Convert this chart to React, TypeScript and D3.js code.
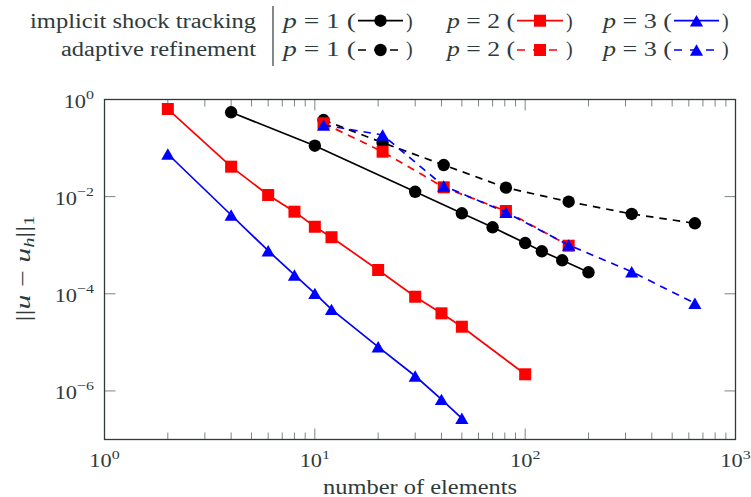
import React from "react";
import * as d3 from "d3";

// ---- data ----
const istX1 = [4, 10, 30, 50, 70, 100, 120, 150, 200];
const istY1 = [0.545, 0.112, 0.0126, 0.00454, 0.00234, 0.00111, 7.5e-4, 4.9e-4, 2.77e-4];
const istX2 = [2, 4, 6, 8, 10, 12, 20, 30, 40, 50, 100];
const istY2 = [0.637, 0.0414, 0.0108, 0.0049, 0.0024, 0.00146, 3.09e-4, 8.7e-5, 3.96e-5, 2.1e-5, 2.2e-6];
const istX3 = [2, 4, 6, 8, 10, 12, 20, 30, 40, 50];
const istY3 = [0.0755, 0.00419, 7.7e-4, 2.44e-4, 1.02e-4, 4.78e-5, 8.1e-6, 2.03e-6, 6.7e-7, 2.73e-7];
const adaX = [11, 21, 41, 81, 161, 321, 641];
const adaY1 = [0.378, 0.129, 0.0448, 0.0153, 0.00787, 0.0044, 0.00283];
const adaY2 = [0.324, 0.0842, 0.01556, 0.00506, 9.77e-4];
const adaY3 = [0.298, 0.186, 0.0166, 0.00476, 1.01e-3, 2.85e-4, 6.37e-5];

const xMajor = [1, 10, 100, 1000];
const xMajorExp = ["0", "1", "2", "3"];
const yMajor = [1, 1e-2, 1e-4, 1e-6];
const yMajorExp = ["0", "\u22122", "\u22124", "\u22126"];
const legendP = ["1", "2", "3"];

const seriesColors = ["#000000", "#ff0000", "#0000ff"];
const markers = ["circle", "square", "triangle"];

const W = 751, H = 497;
const L = 104.5, R = 735.5, T = 99.5, B = 439.5;
const TEXT = "#2f3b3b";
const FONT = "'Liberation Serif', serif";
const SX = 1.18;

function Marker({ type, x, y, color }: { type: string; x: number; y: number; color: string }) {
  if (type === "circle") return <circle cx={x} cy={y} r={6.2} fill={color} />;
  if (type === "square") return <rect x={x - 6} y={y - 6} width={12} height={12} fill={color} />;
  const r = 7.6;
  const h = r * 1.5;
  const w = r * Math.sqrt(3);
  return (
    <path
      d={`M${x},${y - h / 2}L${x + w / 2},${y + h / 2}L${x - w / 2},${y + h / 2}Z`}
      fill={color}
    />
  );
}

export default function App() {
  const x = d3.scaleLog().domain([1, 1000]).range([L, R]);
  const y = d3.scaleLog().domain([1e-7, 1]).range([B, T]);
  const line = d3
    .line<[number, number]>()
    .x((d) => x(d[0]))
    .y((d) => y(d[1]));

  const series = [
    { xs: istX1, ys: istY1, c: 0, dashed: false },
    { xs: istX2, ys: istY2, c: 1, dashed: false },
    { xs: istX3, ys: istY3, c: 2, dashed: false },
    { xs: adaX, ys: adaY1, c: 0, dashed: true },
    { xs: adaX, ys: adaY2, c: 1, dashed: true },
    { xs: adaX, ys: adaY3, c: 2, dashed: true },
  ];

  const minorX: number[] = [];
  for (let e = 0; e < 3; e++) for (let m = 2; m <= 9; m++) minorX.push(m * Math.pow(10, e));

  const tickColor = "#7d8585";
  const legendStarts = [283, 447, 603];
  const legendLineStart = [358, 517, 674];
  const legendLineEnd = [403, 563, 719];
  const rowBase = [28, 56];
  const rowLine = [20.7, 50];

  return (
    <svg
      width={W}
      height={H}
      style={{ position: "absolute", left: 0, top: 0, background: "#fff" }}
      fontFamily={FONT}
    >
      {/* ticks */}
      {minorX.map((v, i) => (
        <g key={"mx" + i} stroke={tickColor} strokeWidth={1}>
          <line x1={x(v)} x2={x(v)} y1={B} y2={B - 7} />
          <line x1={x(v)} x2={x(v)} y1={T} y2={T + 7} />
        </g>
      ))}
      {xMajor.slice(1, 3).map((v, i) => (
        <g key={"Mx" + i} stroke={tickColor} strokeWidth={1}>
          <line x1={x(v)} x2={x(v)} y1={B} y2={B - 11} />
          <line x1={x(v)} x2={x(v)} y1={T} y2={T + 11} />
        </g>
      ))}
      {yMajor.slice(1).map((v, i) => (
        <g key={"My" + i} stroke={tickColor} strokeWidth={1}>
          <line x1={L} x2={L + 11} y1={y(v)} y2={y(v)} />
          <line x1={R} x2={R - 11} y1={y(v)} y2={y(v)} />
        </g>
      ))}

      {/* series */}
      {series.map((s, i) => {
        const pts = s.ys.map((v, j) => [s.xs[j], v] as [number, number]);
        return (
          <g key={"s" + i}>
            <path
              d={line(pts) || ""}
              fill="none"
              stroke={seriesColors[s.c]}
              strokeWidth={1.7}
              strokeDasharray={s.dashed ? "7.5 6" : undefined}
            />
            {pts.map((p, j) => (
              <Marker key={j} type={markers[s.c]} x={x(p[0])} y={y(p[1])} color={seriesColors[s.c]} />
            ))}
          </g>
        );
      })}

      {/* frame */}
      <rect x={L} y={T} width={R - L} height={B - T} fill="none" stroke="#2f3b3b" strokeWidth={1.3} />

      {/* tick labels */}
      {xMajor.map((v, i) => (
        <g key={"xl" + i} transform={`translate(${x(v)},467) scale(${SX},1)`}>
          <text textAnchor="middle" fontSize={19} fill={TEXT}>
            10
            <tspan fontSize={13.5} dy={-8.5}>
              {xMajorExp[i]}
            </tspan>
          </text>
        </g>
      ))}
      {yMajor.map((v, i) => (
        <g key={"yl" + i} transform={`translate(94,${y(v) + 8}) scale(${SX},1)`}>
          <text textAnchor="end" fontSize={19} fill={TEXT}>
            10
            <tspan fontSize={13.5} dy={-8.5}>
              {yMajorExp[i]}
            </tspan>
          </text>
        </g>
      ))}

      {/* axis titles */}
      <text x={(L + R) / 2} y={494} textAnchor="middle" fontSize={20} fill={TEXT} textLength={194} lengthAdjust="spacingAndGlyphs">
        number of elements
      </text>
      <g transform={`translate(30,${(T + B) / 2 - 1}) rotate(-90)`}>
        <text textAnchor="middle" fontSize={22} fill={TEXT} textLength={106} lengthAdjust="spacingAndGlyphs">
          <tspan>||</tspan>
          <tspan fontStyle="italic">u</tspan>
          <tspan> − </tspan>
          <tspan fontStyle="italic">u</tspan>
          <tspan fontSize={15} fontStyle="italic" dy={4}>h</tspan>
          <tspan dy={-4}>||</tspan>
          <tspan fontSize={15} dy={4}>1</tspan>
        </text>
      </g>

      {/* legend */}
      <text x={256} y={rowBase[0]} textAnchor="end" fontSize={20} fill={TEXT} textLength={226} lengthAdjust="spacingAndGlyphs">
        implicit shock tracking
      </text>
      <text x={256} y={rowBase[1]} textAnchor="end" fontSize={20} fill={TEXT} textLength={195} lengthAdjust="spacingAndGlyphs">
        adaptive refinement
      </text>
      <line x1={273} x2={273} y1={6} y2={66} stroke={TEXT} strokeWidth={1.2} />
      {[0, 1].map((row) =>
        legendP.map((p, i) => (
          <g key={"lg" + row + i}>
            <text
              x={legendStarts[i]}
              y={rowBase[row]}
              fontSize={20}
              fill={TEXT}
              textLength={legendLineStart[i] - 2 - legendStarts[i]}
              lengthAdjust="spacingAndGlyphs"
            >
              <tspan fontStyle="italic">p</tspan> = {p} (
            </text>
            <line
              x1={legendLineStart[i]}
              x2={legendLineEnd[i]}
              y1={rowLine[row]}
              y2={rowLine[row]}
              stroke={seriesColors[i]}
              strokeWidth={1.7}
              strokeDasharray={row === 1 ? "8 8" : undefined}
            />
            <Marker
              type={markers[i]}
              x={(legendLineStart[i] + legendLineEnd[i]) / 2}
              y={rowLine[row]}
              color={seriesColors[i]}
            />
            <text x={legendLineEnd[i] + 3} y={rowBase[row]} fontSize={20} fill={TEXT}>
              )
            </text>
          </g>
        ))
      )}
    </svg>
  );
}
